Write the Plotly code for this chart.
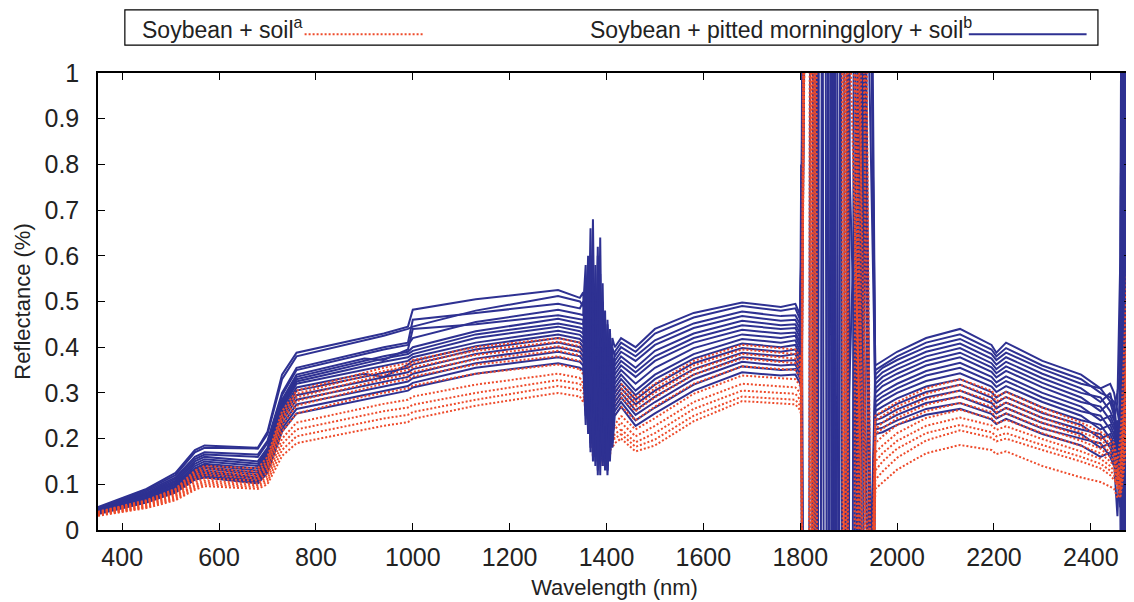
import plotly.graph_objects as go

# wavelength grids (nm) of the smooth parts and the noisy parts
wl_vnir = [350, 450, 510, 550, 570, 680, 700, 730, 760, 900, 940, 990, 1000, 1130, 1300, 1345]
wl_n1 = [1352, 1357, 1362, 1367, 1372, 1377, 1382, 1387, 1392, 1397, 1402, 1407, 1412, 1417]
wl_swir1 = [1430, 1460, 1500, 1580, 1680, 1760, 1790, 1800]
wl_swir2 = [1955, 1970, 2000, 2060, 2130, 2195, 2205, 2225, 2300, 2380, 2420, 2440]
wl_n3 = [2448, 2455, 2461, 2464, 2467, 2470, 2473, 2476, 2479, 2482, 2485]

# Soybean + pitted morningglory + soil (blue)
blue_vnir = [
    [0.050, 0.090, 0.125, 0.175, 0.185, 0.180, 0.215, 0.340, 0.388, 0.420, 0.430, 0.445, 0.482, 0.505, 0.525, 0.508],
    [0.048, 0.088, 0.120, 0.170, 0.180, 0.178, 0.210, 0.330, 0.380, 0.415, 0.425, 0.440, 0.445, 0.480, 0.512, 0.500],
    [0.046, 0.085, 0.115, 0.160, 0.170, 0.165, 0.195, 0.300, 0.355, 0.390, 0.400, 0.410, 0.460, 0.475, 0.495, 0.485],
    [0.045, 0.082, 0.112, 0.155, 0.165, 0.160, 0.190, 0.295, 0.350, 0.385, 0.395, 0.405, 0.420, 0.455, 0.482, 0.472],
    [0.044, 0.080, 0.108, 0.150, 0.160, 0.150, 0.180, 0.285, 0.340, 0.375, 0.372, 0.395, 0.440, 0.450, 0.470, 0.460],
    [0.043, 0.078, 0.105, 0.145, 0.155, 0.145, 0.175, 0.280, 0.335, 0.370, 0.380, 0.390, 0.400, 0.435, 0.462, 0.452],
    [0.042, 0.076, 0.102, 0.140, 0.150, 0.140, 0.170, 0.275, 0.330, 0.365, 0.375, 0.385, 0.392, 0.428, 0.452, 0.443],
    [0.042, 0.075, 0.100, 0.135, 0.145, 0.135, 0.165, 0.270, 0.325, 0.358, 0.368, 0.378, 0.385, 0.420, 0.445, 0.435],
    [0.041, 0.074, 0.098, 0.132, 0.142, 0.130, 0.160, 0.265, 0.320, 0.350, 0.360, 0.370, 0.378, 0.410, 0.436, 0.427],
    [0.040, 0.072, 0.095, 0.128, 0.138, 0.125, 0.155, 0.258, 0.312, 0.342, 0.335, 0.362, 0.370, 0.402, 0.428, 0.418],
    [0.040, 0.070, 0.092, 0.125, 0.135, 0.120, 0.150, 0.250, 0.305, 0.335, 0.345, 0.355, 0.362, 0.395, 0.420, 0.410],
    [0.039, 0.068, 0.090, 0.122, 0.130, 0.115, 0.145, 0.245, 0.295, 0.325, 0.335, 0.345, 0.352, 0.385, 0.410, 0.400],
    [0.038, 0.066, 0.088, 0.118, 0.126, 0.112, 0.140, 0.238, 0.285, 0.315, 0.325, 0.335, 0.342, 0.375, 0.400, 0.390],
    [0.037, 0.064, 0.086, 0.115, 0.122, 0.108, 0.135, 0.230, 0.275, 0.305, 0.315, 0.325, 0.332, 0.365, 0.390, 0.380],
    [0.036, 0.062, 0.084, 0.112, 0.118, 0.105, 0.130, 0.222, 0.265, 0.295, 0.305, 0.315, 0.322, 0.355, 0.378, 0.368],
    [0.035, 0.060, 0.082, 0.110, 0.115, 0.102, 0.125, 0.215, 0.255, 0.285, 0.295, 0.305, 0.312, 0.342, 0.365, 0.355],
]
blue_n1 = [
    [0.52, 0.40, 0.60, 0.33, 0.55, 0.30, 0.62, 0.28, 0.50, 0.26, 0.45, 0.30, 0.42, 0.40],
    [0.49, 0.58, 0.36, 0.66, 0.30, 0.52, 0.25, 0.56, 0.24, 0.48, 0.22, 0.44, 0.30, 0.39],
    [0.50, 0.34, 0.56, 0.28, 0.68, 0.24, 0.50, 0.20, 0.54, 0.22, 0.46, 0.26, 0.40, 0.38],
    [0.47, 0.55, 0.30, 0.60, 0.26, 0.58, 0.18, 0.52, 0.20, 0.44, 0.18, 0.40, 0.26, 0.37],
    [0.46, 0.32, 0.52, 0.24, 0.55, 0.16, 0.60, 0.22, 0.46, 0.15, 0.42, 0.20, 0.38, 0.36],
    [0.45, 0.50, 0.28, 0.54, 0.20, 0.50, 0.15, 0.64, 0.18, 0.40, 0.14, 0.36, 0.24, 0.35],
    [0.44, 0.30, 0.48, 0.22, 0.52, 0.18, 0.45, 0.12, 0.42, 0.20, 0.38, 0.16, 0.34, 0.34],
    [0.43, 0.46, 0.26, 0.50, 0.18, 0.48, 0.20, 0.42, 0.14, 0.40, 0.20, 0.34, 0.22, 0.33],
    [0.42, 0.28, 0.46, 0.20, 0.48, 0.16, 0.44, 0.18, 0.38, 0.15, 0.36, 0.18, 0.32, 0.32],
    [0.41, 0.44, 0.25, 0.46, 0.17, 0.44, 0.15, 0.40, 0.16, 0.36, 0.14, 0.32, 0.21, 0.31],
    [0.40, 0.26, 0.42, 0.19, 0.45, 0.18, 0.40, 0.16, 0.36, 0.17, 0.33, 0.16, 0.30, 0.30],
    [0.39, 0.41, 0.24, 0.43, 0.17, 0.42, 0.14, 0.37, 0.15, 0.34, 0.13, 0.30, 0.20, 0.29],
    [0.38, 0.25, 0.40, 0.18, 0.42, 0.15, 0.38, 0.17, 0.34, 0.14, 0.31, 0.17, 0.28, 0.28],
    [0.37, 0.39, 0.22, 0.40, 0.16, 0.40, 0.13, 0.35, 0.15, 0.32, 0.13, 0.29, 0.19, 0.27],
    [0.36, 0.23, 0.38, 0.17, 0.39, 0.14, 0.36, 0.15, 0.32, 0.13, 0.30, 0.15, 0.27, 0.26],
    [0.35, 0.37, 0.21, 0.38, 0.15, 0.38, 0.12, 0.33, 0.14, 0.30, 0.12, 0.28, 0.18, 0.25],
]
blue_swir1 = [
    [0.42, 0.400, 0.440, 0.475, 0.498, 0.488, 0.495, 0.47],
    [0.41, 0.390, 0.430, 0.465, 0.490, 0.480, 0.485, 0.46],
    [0.40, 0.380, 0.415, 0.452, 0.478, 0.468, 0.470, 0.45],
    [0.39, 0.370, 0.405, 0.442, 0.468, 0.458, 0.460, 0.44],
    [0.38, 0.355, 0.392, 0.430, 0.458, 0.448, 0.450, 0.43],
    [0.37, 0.345, 0.380, 0.420, 0.448, 0.440, 0.442, 0.42],
    [0.36, 0.335, 0.370, 0.410, 0.438, 0.430, 0.432, 0.41],
    [0.35, 0.320, 0.355, 0.398, 0.428, 0.420, 0.425, 0.40],
    [0.34, 0.305, 0.340, 0.385, 0.418, 0.410, 0.415, 0.39],
    [0.33, 0.295, 0.330, 0.375, 0.408, 0.400, 0.405, 0.38],
    [0.32, 0.285, 0.318, 0.365, 0.398, 0.390, 0.395, 0.37],
    [0.31, 0.275, 0.305, 0.352, 0.388, 0.380, 0.385, 0.36],
    [0.30, 0.262, 0.292, 0.340, 0.378, 0.370, 0.372, 0.35],
    [0.29, 0.252, 0.280, 0.330, 0.368, 0.360, 0.362, 0.34],
    [0.28, 0.240, 0.268, 0.318, 0.358, 0.350, 0.352, 0.33],
    [0.27, 0.228, 0.255, 0.305, 0.345, 0.338, 0.340, 0.32],
]
blue_band_x = [
    [1802, 1806, 1846, 1849, 1900, 1903, 1942],
    [1803, 1810, 1826, 1829, 1880, 1883, 1936],
    [1802, 1804, 1818, 1821, 1866, 1869, 1944],
    [1804, 1812, 1856, 1859, 1912, 1915, 1946],
    [1803, 1806, 1836, 1839, 1890, 1893, 1938],
    [1802, 1808, 1870, 1873, 1922, 1925, 1948],
    [1803, 1805, 1832, 1835, 1876, 1879, 1934],
    [1802, 1811, 1862, 1865, 1916, 1919, 1944],
    [1804, 1807, 1824, 1827, 1895, 1898, 1940],
    [1803, 1809, 1852, 1855, 1908, 1911, 1946],
    [1802, 1805, 1842, 1845, 1884, 1887, 1932],
    [1803, 1813, 1868, 1871, 1926, 1929, 1950],
    [1802, 1806, 1828, 1831, 1872, 1875, 1938],
    [1804, 1810, 1858, 1861, 1918, 1921, 1944],
    [1803, 1807, 1834, 1837, 1898, 1901, 1942],
    [1802, 1808, 1864, 1867, 1930, 1933, 1948],
]
blue_band_y = [
    [0.60, 1.5, 1.5, -0.5, -0.5, 1.5, 1.5],
    [0.70, 1.5, 1.5, -0.5, -0.5, 1.5, -0.5],
    [0.80, -0.5, -0.5, 1.5, 1.5, -0.5, -0.5],
    [0.50, 1.5, 1.5, -0.5, -0.5, 1.5, 1.5],
    [0.50, -0.5, -0.5, 1.5, 1.5, -0.5, -0.5],
    [0.60, 1.5, 1.5, -0.5, -0.5, 1.5, -0.5],
    [0.50, -0.5, -0.5, 1.5, 1.5, -0.5, 1.5],
    [0.60, 1.5, 1.5, -0.5, -0.5, 1.5, -0.5],
    [0.40, -0.5, -0.5, 1.5, 1.5, -0.5, -0.5],
    [0.50, 1.5, 1.5, -0.5, -0.5, 1.5, -0.5],
    [0.40, -0.5, -0.5, 1.5, 1.5, -0.5, -0.5],
    [0.50, 1.5, 1.5, -0.5, -0.5, 1.5, -0.5],
    [0.40, -0.5, -0.5, 1.5, 1.5, -0.5, -0.5],
    [0.40, 1.5, 1.5, -0.5, -0.5, 1.5, 1.5],
    [0.30, -0.5, -0.5, 1.5, 1.5, -0.5, -0.5],
    [0.30, 1.5, 1.5, -0.5, -0.5, 1.5, -0.5],
]
blue_swir2 = [
    [0.36, 0.370, 0.390, 0.420, 0.440, 0.405, 0.388, 0.410, 0.370, 0.340, 0.31, 0.32],
    [0.35, 0.360, 0.380, 0.410, 0.428, 0.395, 0.380, 0.398, 0.360, 0.330, 0.30, 0.29],
    [0.34, 0.355, 0.372, 0.400, 0.418, 0.385, 0.372, 0.388, 0.352, 0.320, 0.31, 0.28],
    [0.33, 0.345, 0.362, 0.390, 0.408, 0.375, 0.362, 0.378, 0.342, 0.310, 0.28, 0.30],
    [0.32, 0.335, 0.352, 0.380, 0.398, 0.365, 0.352, 0.368, 0.332, 0.300, 0.29, 0.26],
    [0.31, 0.325, 0.342, 0.370, 0.388, 0.356, 0.343, 0.358, 0.322, 0.290, 0.26, 0.28],
    [0.30, 0.315, 0.332, 0.360, 0.378, 0.346, 0.334, 0.348, 0.312, 0.280, 0.27, 0.24],
    [0.29, 0.302, 0.320, 0.348, 0.366, 0.335, 0.323, 0.336, 0.300, 0.270, 0.24, 0.25],
    [0.28, 0.292, 0.310, 0.338, 0.355, 0.325, 0.313, 0.326, 0.290, 0.260, 0.25, 0.22],
    [0.27, 0.282, 0.300, 0.326, 0.343, 0.314, 0.302, 0.315, 0.280, 0.250, 0.22, 0.23],
    [0.26, 0.270, 0.288, 0.314, 0.330, 0.302, 0.290, 0.303, 0.268, 0.240, 0.23, 0.20],
    [0.25, 0.258, 0.276, 0.302, 0.318, 0.290, 0.278, 0.291, 0.256, 0.230, 0.20, 0.21],
    [0.24, 0.246, 0.264, 0.290, 0.305, 0.278, 0.266, 0.279, 0.245, 0.220, 0.21, 0.18],
    [0.23, 0.235, 0.252, 0.278, 0.292, 0.266, 0.255, 0.267, 0.234, 0.210, 0.18, 0.19],
    [0.22, 0.224, 0.240, 0.265, 0.278, 0.254, 0.244, 0.255, 0.222, 0.200, 0.19, 0.16],
    [0.21, 0.214, 0.230, 0.252, 0.265, 0.242, 0.232, 0.243, 0.210, 0.185, 0.16, 0.17],
]
blue_n3 = [
    [0.30, 0.26, 0.22, 1.5, -0.5, 1.5, -0.5, 1.5, -0.5, 1.5, 1.5],
    [0.28, 0.20, 0.06, -0.5, 1.5, -0.5, 1.5, -0.5, 1.5, -0.5, 1.5],
    [0.27, 0.30, 0.35, 0.80, 1.5, -0.5, 1.5, -0.5, 1.5, -0.5, -0.5],
    [0.26, 0.18, 0.10, 0.50, -0.5, 1.5, -0.5, 1.5, -0.5, 1.5, -0.5],
    [0.24, 0.28, 0.60, 1.5, 1.5, -0.5, -0.5, 1.5, 1.5, -0.5, 1.5],
    [0.25, 0.16, 0.30, 0.20, 1.5, 1.5, -0.5, -0.5, 1.5, 1.5, -0.5],
    [0.22, 0.24, 0.05, 0.40, 1.5, -0.5, 1.5, 1.5, -0.5, 1.5, 1.5],
    [0.23, 0.15, 0.25, 1.5, -0.5, -0.5, 1.5, -0.5, 1.5, -0.5, -0.5],
    [0.20, 0.22, 0.10, 0.60, -0.5, 1.5, 1.5, -0.5, -0.5, 1.5, 1.5],
    [0.21, 0.14, 0.20, 1.5, 1.5, -0.5, 1.5, -0.5, 1.5, 1.5, -0.5],
    [0.18, 0.20, 0.12, 1.00, -0.5, 1.5, -0.5, -0.5, 1.5, -0.5, 1.5],
    [0.19, 0.12, 0.35, -0.5, 1.5, 1.5, -0.5, 1.5, -0.5, -0.5, 1.5],
    [0.16, 0.18, 0.05, 0.70, 1.5, -0.5, -0.5, 1.5, 1.5, -0.5, -0.5],
    [0.17, 0.10, 0.25, 1.5, -0.5, 1.5, 1.5, -0.5, 1.5, 1.5, 1.5],
    [0.14, 0.16, 0.08, 0.90, 1.5, -0.5, 1.5, -0.5, -0.5, 1.5, -0.5],
    [0.15, 0.03, 0.20, 0.30, -0.5, 1.5, -0.5, 1.5, 1.5, -0.5, 1.5],
]

# Soybean + soil (red)
red_vnir = [
    [0.040, 0.065, 0.090, 0.130, 0.140, 0.135, 0.160, 0.260, 0.305, 0.345, 0.355, 0.365, 0.372, 0.400, 0.420, 0.410],
    [0.039, 0.063, 0.088, 0.125, 0.135, 0.128, 0.152, 0.252, 0.298, 0.338, 0.348, 0.358, 0.365, 0.392, 0.412, 0.402],
    [0.038, 0.062, 0.085, 0.120, 0.130, 0.122, 0.145, 0.245, 0.290, 0.330, 0.340, 0.350, 0.356, 0.383, 0.402, 0.392],
    [0.037, 0.060, 0.082, 0.115, 0.125, 0.118, 0.140, 0.238, 0.282, 0.320, 0.330, 0.340, 0.346, 0.373, 0.392, 0.382],
    [0.036, 0.058, 0.080, 0.110, 0.120, 0.113, 0.134, 0.228, 0.272, 0.310, 0.320, 0.330, 0.336, 0.362, 0.380, 0.370],
    [0.035, 0.056, 0.077, 0.105, 0.113, 0.108, 0.126, 0.215, 0.255, 0.292, 0.300, 0.310, 0.316, 0.342, 0.362, 0.352],
    [0.034, 0.054, 0.074, 0.100, 0.108, 0.102, 0.118, 0.200, 0.235, 0.268, 0.276, 0.285, 0.292, 0.318, 0.342, 0.333],
    [0.033, 0.052, 0.071, 0.096, 0.104, 0.098, 0.112, 0.188, 0.220, 0.252, 0.260, 0.268, 0.274, 0.300, 0.328, 0.320],
    [0.032, 0.050, 0.068, 0.092, 0.100, 0.094, 0.106, 0.175, 0.205, 0.236, 0.244, 0.252, 0.258, 0.285, 0.315, 0.307],
    [0.031, 0.048, 0.065, 0.088, 0.096, 0.090, 0.100, 0.162, 0.190, 0.220, 0.228, 0.236, 0.243, 0.272, 0.300, 0.292],
]
red_n1 = [
    [0.40, 0.36, 0.43, 0.32, 0.40, 0.28, 0.38, 0.26, 0.35, 0.25, 0.33, 0.27, 0.31, 0.30],
    [0.39, 0.42, 0.33, 0.41, 0.27, 0.37, 0.24, 0.36, 0.23, 0.33, 0.24, 0.30, 0.26, 0.29],
    [0.38, 0.33, 0.40, 0.29, 0.38, 0.25, 0.36, 0.22, 0.33, 0.22, 0.31, 0.24, 0.29, 0.28],
    [0.37, 0.39, 0.30, 0.38, 0.24, 0.35, 0.21, 0.33, 0.20, 0.31, 0.21, 0.28, 0.24, 0.27],
    [0.36, 0.31, 0.37, 0.26, 0.36, 0.22, 0.33, 0.19, 0.31, 0.19, 0.29, 0.21, 0.26, 0.25],
    [0.34, 0.36, 0.28, 0.35, 0.21, 0.32, 0.18, 0.30, 0.17, 0.28, 0.18, 0.25, 0.21, 0.23],
    [0.32, 0.28, 0.34, 0.23, 0.33, 0.19, 0.30, 0.16, 0.27, 0.16, 0.26, 0.18, 0.23, 0.22],
    [0.31, 0.33, 0.25, 0.32, 0.18, 0.29, 0.16, 0.27, 0.15, 0.25, 0.16, 0.23, 0.19, 0.21],
    [0.30, 0.26, 0.31, 0.21, 0.30, 0.17, 0.27, 0.15, 0.25, 0.15, 0.23, 0.16, 0.21, 0.20],
    [0.28, 0.30, 0.23, 0.29, 0.16, 0.27, 0.15, 0.25, 0.14, 0.22, 0.15, 0.21, 0.18, 0.19],
]
red_swir1 = [
    [0.320, 0.290, 0.320, 0.370, 0.405, 0.398, 0.395, 0.380],
    [0.310, 0.280, 0.310, 0.360, 0.395, 0.388, 0.385, 0.370],
    [0.300, 0.270, 0.300, 0.350, 0.385, 0.378, 0.375, 0.360],
    [0.290, 0.260, 0.290, 0.340, 0.375, 0.368, 0.365, 0.350],
    [0.270, 0.240, 0.270, 0.320, 0.358, 0.352, 0.350, 0.335],
    [0.250, 0.220, 0.245, 0.298, 0.338, 0.332, 0.330, 0.315],
    [0.235, 0.205, 0.228, 0.280, 0.320, 0.315, 0.312, 0.300],
    [0.220, 0.192, 0.212, 0.265, 0.305, 0.300, 0.298, 0.285],
    [0.210, 0.182, 0.198, 0.250, 0.292, 0.288, 0.285, 0.272],
    [0.200, 0.172, 0.185, 0.238, 0.282, 0.278, 0.275, 0.262],
]
red_band_x = [
    [1803, 1808, 1822, 1824, 1890, 1893, 1940],
    [1802, 1806, 1828, 1830, 1916, 1918, 1944],
    [1803, 1812, 1833, 1835, 1898, 1900, 1946],
    [1802, 1807, 1818, 1820, 1920, 1922, 1942],
    [1803, 1810, 1886, 1888, 1924, 1926, 1948],
    [1802, 1806, 1826, 1828, 1893, 1895, 1940],
    [1803, 1809, 1830, 1832, 1912, 1914, 1946],
    [1802, 1805, 1820, 1822, 1896, 1898, 1944],
    [1803, 1811, 1889, 1891, 1932, 1934, 1948],
    [1802, 1807, 1824, 1826, 1918, 1920, 1942],
]
red_band_y = [
    [0.35, 1.5, 1.5, -0.5, -0.5, 1.5, -0.5],
    [0.35, -0.5, -0.5, 1.5, 1.5, -0.5, -0.5],
    [0.30, 1.5, 1.5, -0.5, -0.5, 1.5, -0.5],
    [0.30, -0.5, -0.5, 1.5, 1.5, -0.5, -0.5],
    [0.30, 1.5, 1.5, -0.5, -0.5, 1.5, -0.5],
    [0.30, -0.5, -0.5, 1.5, 1.5, -0.5, -0.5],
    [0.28, 1.5, 1.5, -0.5, -0.5, 1.5, -0.5],
    [0.27, -0.5, -0.5, 1.5, 1.5, -0.5, -0.5],
    [0.26, 1.5, 1.5, -0.5, -0.5, 1.5, -0.5],
    [0.25, -0.5, -0.5, 1.5, 1.5, -0.5, -0.5],
]
red_swir2 = [
    [0.25, 0.260, 0.280, 0.310, 0.330, 0.305, 0.292, 0.302, 0.268, 0.235, 0.215, 0.200],
    [0.24, 0.250, 0.270, 0.298, 0.318, 0.294, 0.282, 0.291, 0.258, 0.226, 0.205, 0.190],
    [0.22, 0.235, 0.258, 0.286, 0.305, 0.282, 0.270, 0.279, 0.246, 0.215, 0.198, 0.180],
    [0.21, 0.222, 0.245, 0.274, 0.292, 0.270, 0.258, 0.267, 0.235, 0.205, 0.188, 0.170],
    [0.19, 0.205, 0.230, 0.260, 0.278, 0.258, 0.246, 0.255, 0.224, 0.195, 0.178, 0.160],
    [0.17, 0.185, 0.212, 0.245, 0.263, 0.244, 0.233, 0.241, 0.212, 0.184, 0.168, 0.150],
    [0.15, 0.168, 0.195, 0.228, 0.246, 0.229, 0.219, 0.227, 0.199, 0.172, 0.156, 0.140],
    [0.13, 0.150, 0.178, 0.212, 0.230, 0.214, 0.205, 0.212, 0.186, 0.160, 0.145, 0.130],
    [0.11, 0.128, 0.158, 0.196, 0.218, 0.202, 0.194, 0.200, 0.175, 0.150, 0.135, 0.120],
    [0.09, 0.104, 0.132, 0.168, 0.186, 0.175, 0.166, 0.172, 0.140, 0.115, 0.105, 0.095],
]
red_n3 = [
    [0.19, 0.15, 0.20, 0.26, 0.34, 0.40, 0.52, 0.60, 0.72, 0.85, 0.95],
    [0.18, 0.12, 0.16, 0.20, 0.26, 0.30, 0.40, 0.48, 0.55, 0.62, 0.70],
    [0.17, 0.14, 0.10, 0.14, 0.20, 0.25, 0.32, 0.38, 0.45, 0.52, 0.60],
    [0.16, 0.11, 0.14, 0.20, 0.26, 0.30, 0.42, 0.50, 0.60, 0.72, 0.85],
    [0.15, 0.13, 0.09, 0.12, 0.18, 0.22, 0.28, 0.32, 0.38, 0.44, 0.50],
    [0.14, 0.10, 0.12, 0.18, 0.24, 0.28, 0.38, 0.46, 0.55, 0.65, 0.75],
    [0.13, 0.12, 0.08, 0.10, 0.14, 0.18, 0.24, 0.28, 0.34, 0.40, 0.45],
    [0.12, 0.09, 0.11, 0.15, 0.20, 0.24, 0.32, 0.38, 0.46, 0.56, 0.65],
    [0.11, 0.10, 0.07, 0.09, 0.12, 0.15, 0.20, 0.24, 0.30, 0.35, 0.40],
    [0.09, 0.07, 0.09, 0.12, 0.16, 0.20, 0.26, 0.32, 0.40, 0.48, 0.55],
]

BLUE = '#2E3192'
RED = '#EE4B2B'
FONT = 'Liberation Sans, Arial, sans-serif'
RED_LINE = dict(color=RED, width=2, dash='2px,2px')
BLUE_LINE = dict(color=BLUE, width=2)

fig = go.Figure()

# red water band noise (1345-1430 nm) goes below the blue curves
for i in range(len(red_vnir)):
    x = wl_vnir[-1:] + wl_n1 + wl_swir1[:1]
    y = red_vnir[i][-1:] + red_n1[i] + red_swir1[i][:1]
    fig.add_trace(go.Scatter(x=x, y=y, mode='lines', line=RED_LINE, showlegend=False, hoverinfo='skip'))

for i in range(len(blue_vnir)):
    x = wl_vnir + wl_n1 + wl_swir1 + blue_band_x[i] + wl_swir2 + wl_n3
    y = blue_vnir[i] + blue_n1[i] + blue_swir1[i] + blue_band_y[i] + blue_swir2[i] + blue_n3[i]
    fig.add_trace(go.Scatter(x=x, y=y, mode='lines', line=BLUE_LINE, showlegend=False, hoverinfo='skip'))

# the rest of each red spectrum sits on top
for i in range(len(red_vnir)):
    fig.add_trace(go.Scatter(x=wl_vnir, y=red_vnir[i], mode='lines', line=RED_LINE,
                             showlegend=False, hoverinfo='skip'))
    x = wl_swir1 + red_band_x[i] + wl_swir2 + wl_n3
    y = red_swir1[i] + red_band_y[i] + red_swir2[i] + red_n3[i]
    fig.add_trace(go.Scatter(x=x, y=y, mode='lines', line=RED_LINE, showlegend=False, hoverinfo='skip'))

# legend box drawn by hand (text first, then line sample)
fig.add_shape(type='rect', xref='paper', yref='paper', x0=0.026, x1=0.968, y0=1.061, y1=1.138,
              line=dict(color='black', width=1.2), fillcolor='white')
fig.add_shape(type='line', xref='paper', yref='paper', x0=0.200, x1=0.316, y0=1.085, y1=1.085,
              line=RED_LINE)
fig.add_shape(type='line', xref='paper', yref='paper', x0=0.843, x1=0.957, y0=1.085, y1=1.085,
              line=BLUE_LINE)
fig.add_annotation(xref='paper', yref='paper', x=0.041, y=1.099, xanchor='left', yanchor='middle',
                   text='Soybean + soil<sup>a</sup>', showarrow=False,
                   font=dict(family=FONT, size=23, color='#222'))
fig.add_annotation(xref='paper', yref='paper', x=0.474, y=1.099, xanchor='left', yanchor='middle',
                   text='Soybean + pitted morningglory + soil<sup>b</sup>', showarrow=False,
                   font=dict(family=FONT, size=23, color='#222'))

axis_common = dict(showgrid=False, zeroline=False, showline=True, linecolor='black', linewidth=1.5,
                   mirror='ticks', ticks='inside', ticklen=7, tickcolor='black', tickwidth=1.2,
                   tickfont=dict(family=FONT, size=25, color='#222'))

fig.update_xaxes(range=[350, 2483], tickvals=list(range(400, 2401, 200)), ticklabelstandoff=4,
                 title=dict(text='Wavelength (nm)', font=dict(family=FONT, size=22, color='#222'), standoff=10),
                 **axis_common)
fig.update_yaxes(range=[0, 1], tickvals=[i / 10 for i in range(11)],
                 ticktext=['0', '0.1', '0.2', '0.3', '0.4', '0.5', '0.6', '0.7', '0.8', '0.9', '1'],
                 ticklabelstandoff=12,
                 title=dict(text='Reflectance (%)', font=dict(family=FONT, size=22, color='#222'), standoff=8),
                 **axis_common)

# the page body adds an 8 px offset, so the figure is sized to the remaining window
fig.update_layout(width=1126, height=594, plot_bgcolor='white', paper_bgcolor='white',
                  margin=dict(l=90, r=1, t=65, b=72), hovermode=False)

fig.write_html("out.html")
